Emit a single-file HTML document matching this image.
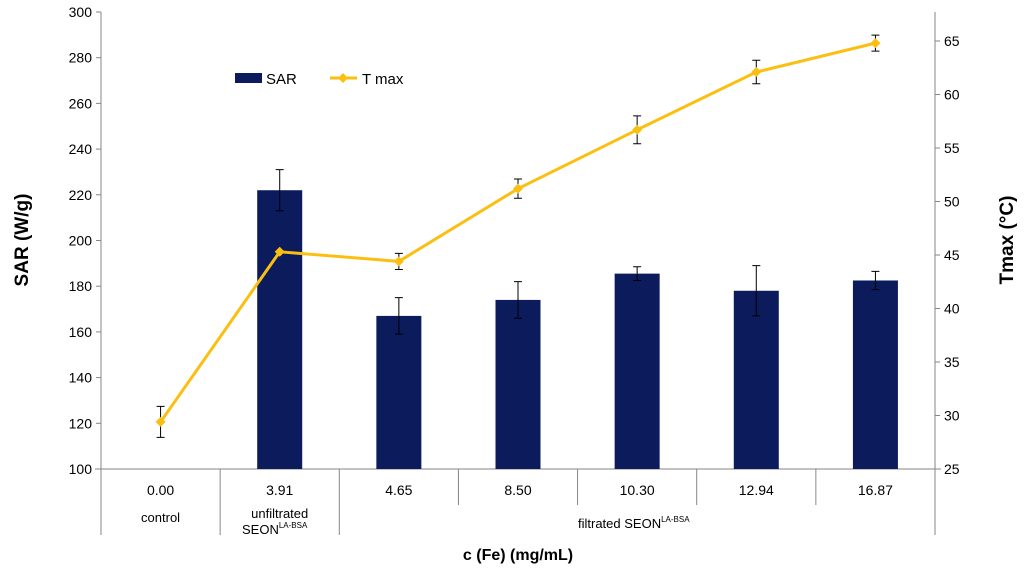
<!DOCTYPE html>
<html><head><meta charset="utf-8"><style>
body{margin:0;background:#fff;}
svg{display:block;font-family:"Liberation Sans",sans-serif;}
</style></head><body>
<svg id="chart" width="1024" height="575">
<g id="grid"></g>
</svg>
<script>
const categories=["0.00","3.91","4.65","8.50","10.30","12.94","16.87"];
const sarValues=[null,222,167,174,185.5,178,182.5];
const sarErrors=[0,9,8,8,3,11,4];
const tmaxValues=[29.4,45.3,44.4,51.2,56.7,62.1,64.8];
const tmaxErrors=[1.45,0,0.75,0.9,1.3,1.1,0.75];
const leftTicks=[100,120,140,160,180,200,220,240,260,280,300];
const rightTicks=[25,30,35,40,45,50,55,60,65];

const NS="http://www.w3.org/2000/svg";
const svg=document.getElementById('chart');
const X0=101,X1=935,Y0=469,Y1=12;
const bw=(X1-X0)/categories.length;
const yL=v=>Y0-(v-100)/200*(Y0-Y1);
const yR=v=>Y0-(v-25)*10.7;
const xC=i=>X0+bw*(i+0.5);
function el(t,a,p){const e=document.createElementNS(NS,t);for(const k in a)e.setAttribute(k,a[k]);(p||svg).appendChild(e);return e;}
function txt(x,y,s,a){const e=el('text',Object.assign({x:x,y:y,'font-size':14,fill:'#000'},a||{}));e.textContent=s;return e;}

let ax=el('line',{x1:X0,y1:Y1,x2:X0,y2:Y0,stroke:'#868686'});

ax=el('line',{x1:X1,y1:Y1,x2:X1,y2:Y0,stroke:'#868686'});

ax=el('line',{x1:X0-6,y1:Y0,x2:X1+6,y2:Y0,stroke:'#868686'});

leftTicks.forEach(v=>{
  el('line',{x1:X0-5,y1:yL(v),x2:X0,y2:yL(v),stroke:'#868686'});
  const t=txt(X0-9,yL(v)+5,String(v),{'text-anchor':'end'});
  
});
rightTicks.forEach(v=>{
  el('line',{x1:X1,y1:yR(v),x2:X1+5,y2:yR(v),stroke:'#868686'});
  const t=txt(X1+9,yR(v)+5,String(v));
  
});
for(let i=0;i<=categories.length;i++){
  const x=X0+bw*i;const long=(i<=2||i==categories.length);
  el('line',{x1:x,y1:Y0,x2:x,y2:long?535:505,stroke:'#868686'});
}
categories.forEach((c,i)=>{
  const t=txt(xC(i),495,c,{'text-anchor':'middle'});
  
});
let g=txt(xC(0),522,'control',{'text-anchor':'middle','font-size':13});

g=txt(xC(1),518,'unfiltrated',{'text-anchor':'middle','font-size':13});

g=el('text',{x:242,y:534,'font-size':13});g.innerHTML='SEON<tspan font-size="8" dy="-6">LA-BSA</tspan>';

g=el('text',{x:578,y:528,'font-size':13});g.innerHTML='filtrated SEON<tspan font-size="8" dy="-6">LA-BSA</tspan>';


let tt=txt(518,560,'c (Fe) (mg/mL)',{'text-anchor':'middle','font-weight':'bold','font-size':16});

tt=txt(0,0,'SAR (W/g)',{'text-anchor':'middle','font-weight':'bold','font-size':19,transform:'translate(28,240) rotate(-90)'});

tt=txt(0,0,'Tmax (°C)',{'text-anchor':'middle','font-weight':'bold','font-size':19,transform:'translate(1013,240) rotate(-90)'});


sarValues.forEach((v,i)=>{
  if(v==null)return;
  const b=el('rect',{x:xC(i)-22.5,y:yL(v),width:45,height:Y0-yL(v),fill:'#0c1b5c'});
  
  const e=sarErrors[i];
  const eb=el('path',{d:`M${xC(i)},${yL(v-e)}V${yL(v+e)}M${xC(i)-4},${yL(v-e)}h8M${xC(i)-4},${yL(v+e)}h8`,stroke:'#000','stroke-width':1,fill:'none'});
  
});
const ln=el('polyline',{points:tmaxValues.map((v,i)=>xC(i)+','+yR(v)).join(' '),fill:'none',stroke:'#fbbf12','stroke-width':3});

tmaxValues.forEach((v,i)=>{
  const e=tmaxErrors[i];
  if(e>0){const eb=el('path',{d:`M${xC(i)},${yR(v-e)}V${yR(v+e)}M${xC(i)-4},${yR(v-e)}h8M${xC(i)-4},${yR(v+e)}h8`,stroke:'#000','stroke-width':1,fill:'none'});
  }
  const x=xC(i),y=yR(v);
  const p=el('path',{d:`M${x},${y-5}L${x+5},${y}L${x},${y+5}L${x-5},${y}Z`,fill:'#fbbf12'});
  
});
const lg=el('g',{});
let s=el('rect',{x:235,y:73,width:27,height:10,fill:'#0c1b5c'},lg);

s=txt(266,84,'SAR',{'font-size':15});lg.appendChild(s);

s=el('line',{x1:330,y1:78,x2:357,y2:78,stroke:'#fbbf12','stroke-width':3},lg);

el('path',{d:'M343,73L348,78L343,83L338,78Z',fill:'#fbbf12'},lg);
s=txt(362,84,'T max',{'font-size':15});lg.appendChild(s);

</script>
</body></html>
